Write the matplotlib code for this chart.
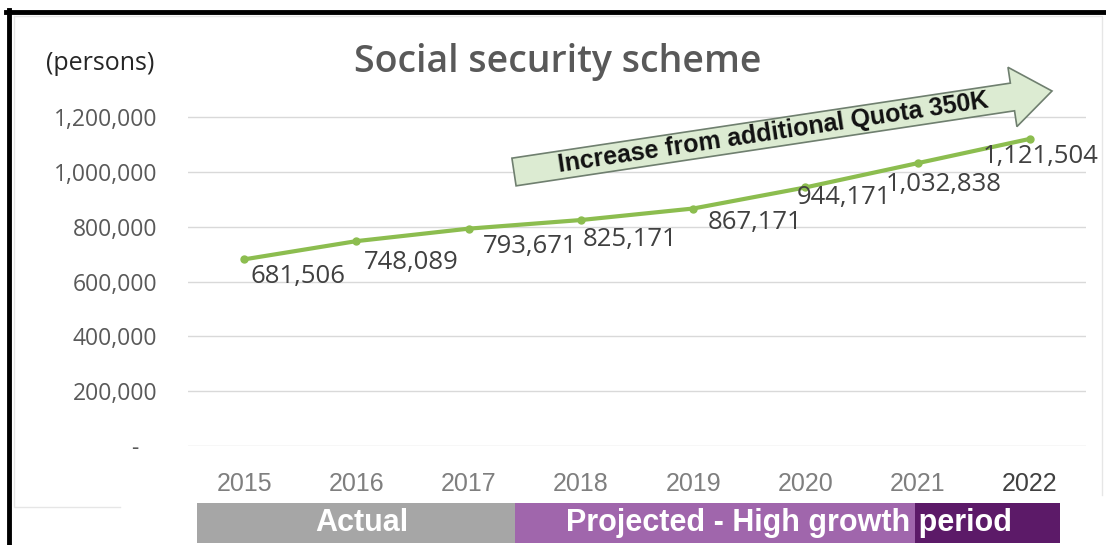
import numpy as np
import matplotlib
matplotlib.use('Agg')
import matplotlib.pyplot as plt
from matplotlib.patches import Polygon, Rectangle
from matplotlib.lines import Line2D

years = ['2015', '2016', '2017', '2018', '2019', '2020', '2021', '2022']
persons = [681506, 748089, 793671, 825171, 867171, 944171, 1032838, 1121504]
y_ticks = [0, 200000, 400000, 600000, 800000, 1000000, 1200000]

# label offsets in pixels (dx, dy) relative to each point
label_offsets = [(54, -17), (55, -21), (61, -18), (49, -19),
                 (62, -14), (39, -10), (26, -21), (11, -18)]

W, H = 1106, 545
fig = plt.figure(figsize=(W / 100, H / 100), dpi=100)
fig.patch.set_facecolor('white')


def fx(px):
    return px / W


def fy(py):
    return (H - py) / H


ax = fig.add_axes([fx(188), fy(446), fx(1086) - fx(188), fy(90) - fy(446)])
ax.set_xlim(-0.5, len(years) - 0.5)
ax.set_ylim(0, 1300000)
for s in ax.spines.values():
    s.set_visible(False)

ax.set_yticks(y_ticks)
ax.set_yticklabels([f'{v:,}' if v else '-   ' for v in y_ticks],
                   fontsize=16.5, color='#595959', family='Open Sans')
ax.tick_params(axis='y', length=0, pad=22)
ax.yaxis.grid(True, color='#d9d9d9', lw=1)
ax.set_axisbelow(True)

x = np.arange(len(years))
ax.set_xticks(x)
ax.set_xticklabels(years, fontsize=18, color='#7f7f7f', family='Liberation Sans')
ax.get_xticklabels()[-1].set_color('#404040')
ax.tick_params(axis='x', length=0, pad=19)

ax.plot(x, persons, color='#8cbd4f', lw=3, marker='o', ms=5, zorder=3)
for xi, v, (dx, dy) in zip(x, persons, label_offsets):
    ax.annotate(f'{v:,}', (xi, v), xytext=(dx, dy), textcoords='offset pixels',
                ha='center', va='center', fontsize=18.5, color='#404040',
                family='Open Sans')

# title and unit
fig.text(fx(558), fy(62), 'Social security scheme', ha='center', va='center',
         fontsize=27, color='#595959', family='Open Sans', fontweight='semibold')
fig.text(fx(46), fy(63), '(persons)', ha='left', va='center',
         fontsize=18, color='#262626', family='Open Sans')

# rotated arrow banner
S = np.array([514.0, 172.0])
T = np.array([1052.0, 91.0])
u = (T - S) / np.linalg.norm(T - S)
n = np.array([u[1], -u[0]])
body_hw, head_hw, head_len = 14, 30, 40
B = T - u * head_len
pts = [S + n * body_hw, B + n * body_hw, B + n * head_hw, T,
       B - n * head_hw, B - n * body_hw, S - n * body_hw]
pts = [(fx(p[0]), fy(p[1])) for p in pts]
fig.patches.append(Polygon(pts, closed=True, transform=fig.transFigure,
                           facecolor='#dcebd2', edgecolor='#6f7f6f', lw=1.2))
ang = np.degrees(np.arctan2(S[1] - T[1], T[0] - S[0]))
mid = S + u * 262
fig.text(fx(mid[0]), fy(mid[1]), 'Increase from additional Quota 350K',
         ha='center', va='center', rotation=ang, rotation_mode='anchor',
         fontsize=18, fontweight='bold', color='#111111', family='Liberation Sans')

# period band under the axis
bands = [(197, 515, '#a6a6a6'), (515, 915, '#a066ac'), (915, 1060, '#5c1a68')]
for x0, x1, c in bands:
    fig.patches.append(Rectangle((fx(x0), fy(543)), fx(x1) - fx(x0), fy(503) - fy(543),
                                 transform=fig.transFigure, facecolor=c, edgecolor='none'))
fig.text(fx(362), fy(523), 'Actual', ha='center', va='center', fontsize=22,
         fontweight='bold', color='white', family='Liberation Sans')
fig.text(fx(789), fy(523), 'Projected - High growth period', ha='center', va='center',
         fontsize=22, fontweight='bold', color='white', family='Liberation Sans')

# frame lines
fig.add_artist(Line2D([fx(6), fx(1106)], [fy(12), fy(12)], color='black', lw=3.5,
                      transform=fig.transFigure))
fig.add_artist(Line2D([fx(8.5), fx(8.5)], [fy(10), fy(545)], color='black', lw=3.5,
                      transform=fig.transFigure))
panel = '#e6e6e6'
fig.add_artist(Line2D([fx(14), fx(1102), fx(1102)], [fy(16), fy(16), fy(495)],
                      color=panel, lw=1, transform=fig.transFigure))
fig.add_artist(Line2D([fx(14), fx(14), fx(120)], [fy(16), fy(507), fy(507)],
                      color=panel, lw=1, transform=fig.transFigure))

fig.savefig('out.png', dpi=100)
